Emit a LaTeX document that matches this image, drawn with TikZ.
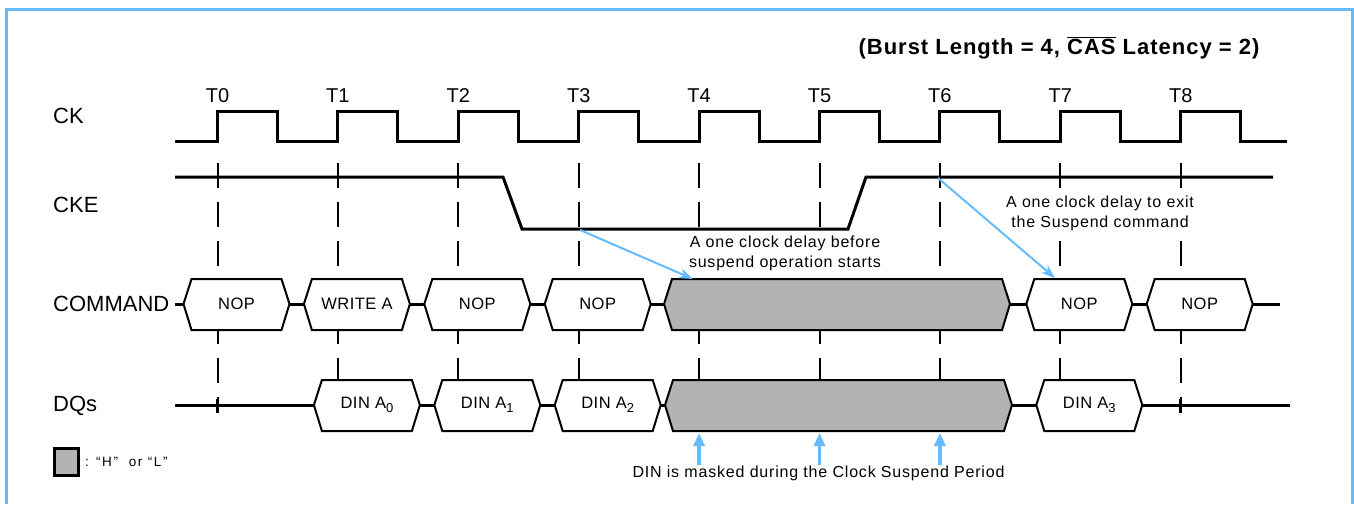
\documentclass[tikz,border=0pt]{standalone}
\usepackage{fontspec}
\setmainfont{Liberation Sans}
\usetikzlibrary{arrows.meta}

\definecolor{notecol}{RGB}{100,187,255}
\definecolor{dontcare}{RGB}{179,179,179}

\newcommand\dinsub[1]{\raisebox{-4pt}{\fontsize{13}{13}\selectfont#1}}

\begin{document}
\begin{tikzpicture}[x=1pt,y=-1pt,
  sig/.style={line width=3pt,line join=miter},
  bus box/.style={draw,line width=2pt,fill=white,line join=miter},
  dc box/.style={bus box,fill=dontcare},
  tick line/.style={line width=2pt,dash pattern=on 25pt off 14pt},
  note arrow/.style={notecol,line width=2pt,-{Stealth[length=14pt,width=10pt]}},
  up arrow/.style={notecol,line width=3.5pt,-{Triangle[length=13pt,width=11pt]}},
  sig label/.style={anchor=west,inner sep=0pt,font=\fontsize{22}{26}\selectfont},
  clk label/.style={inner sep=0pt,font=\fontsize{20}{24}\selectfont},
  box text/.style={inner sep=0pt,font={\fontsize{16.5}{20}\selectfont\addfontfeatures{LetterSpace=3}}},
  note/.style={inner sep=1pt,fill=white,align=center,
    font={\fontsize{16}{20}\selectfont\addfontfeatures{LetterSpace=5}}}]
\def\Tz{217.5}
\def\Tp{120.4}
\useasboundingbox (0,0) rectangle (1354,504);
% frame
\draw[notecol,line width=3pt] (6.5,504) -- (6.5,9.5) -- (1352.5,9.5) -- (1352.5,504);
\node[inner sep=0pt,font={\fontsize{22}{26}\selectfont\bfseries\addfontfeatures{LetterSpace=4.5}}] (burst) at (1059,48)
  {(Burst Length = 4, $\overline{\mbox{CAS}}$ Latency = 2)};
% signal names
\node[sig label] (ck) at (53,116) {CK};
\node[sig label] (cke) at (53,205) {CKE};
\node[sig label] (cmd) at (53,304) {COMMAND};
\node[sig label] (dq) at (53,406) {DQs};
% clock edges
\foreach \i in {0,...,8}{
  \node[clk label] (t\i) at (\Tz+\i*\Tp,96) {T\i};
  \draw[tick line] (\Tz+\i*\Tp,163) -- (\Tz+\i*\Tp,410);
}
\draw[sig] (175,141) \foreach \i in {0,...,8}{
  -- (\Tz+\i*\Tp,141) -- (\Tz+\i*\Tp,111) -- (\Tz+\i*\Tp+60,111) -- (\Tz+\i*\Tp+60,141)}
  -- (1287,141);
\draw[sig] (175,177) -- (503,177) -- (522,229) -- (848,229) -- (866,177) -- (1273,177);
% busses
\draw[sig] (175,304) -- (1280,304);
\draw[sig] (175,405) -- (1290,405);
\foreach \i in {0,8}
  \draw[line width=3pt] (\Tz+\i*\Tp,399) -- (\Tz+\i*\Tp,413);
\foreach \i/\txt in {0/NOP,1/WRITE A,2/NOP,3/NOP,7/NOP,8/NOP}{
  \pgfmathsetmacro\xa{\Tz+\i*\Tp-34}
  \pgfmathsetmacro\xb{\Tz+\i*\Tp+72}
  \draw[bus box] (\xa,304) -- (\xa+8,279) -- (\xb-8,279) -- (\xb,304) -- (\xb-8,330) -- (\xa+8,330) -- cycle;
  \node[box text] (c\i) at ({(\xa+\xb)/2},304) {\txt};
}
\draw[dc box] (664,304) -- (672,279) -- (1002,279) -- (1010,304) -- (1002,330) -- (672,330) -- cycle;
\foreach \i/\sub in {1/0,2/1,3/2,7/3}{
  \pgfmathsetmacro\xa{\Tz+\i*\Tp-24}
  \pgfmathsetmacro\xb{\Tz+\i*\Tp+82}
  \draw[bus box] (\xa,405) -- (\xa+8,380) -- (\xb-8,380) -- (\xb,405) -- (\xb-8,431) -- (\xa+8,431) -- cycle;
  \node[box text] (d\i) at ({(\xa+\xb)/2},405) {DIN A\dinsub{\sub}};
}
\draw[dc box] (665,405) -- (673,380) -- (1004,380) -- (1012,405) -- (1004,431) -- (673,431) -- cycle;
% notes
\coordinate (lowstart) at (580,230);
\coordinate (suspend) at (693,279);
\coordinate (highstart) at (938,178);
\coordinate (exitnop) at (1055,278);
\draw[note arrow] (lowstart) -- (suspend);
\draw[note arrow] (highstart) -- (exitnop);
\node[note] (before) at (785,253) {A one clock delay before\\suspend operation starts};
\node[note] (exit) at (1100,213) {A one clock delay to exit\\the Suspend command};
\foreach \i in {4,5,6}{
  \coordinate (m\i) at (\Tz+\i*\Tp,467);
  \coordinate (mt\i) at (\Tz+\i*\Tp,433);
  \draw[up arrow] (m\i) -- (mt\i);
}
\node[note] (mask) at (818.5,473) {DIN is masked during the Clock Suspend Period};
% legend
\draw[line width=3pt,fill=dontcare] (54.5,448.5) rectangle (78.5,475);
\node[anchor=west,inner sep=0pt,font={\fontsize{13.5}{16}\selectfont\addfontfeatures{LetterSpace=12}}] (hl) at (85,462) {: “H”\ \ or “L”};
\end{tikzpicture}
\end{document}
